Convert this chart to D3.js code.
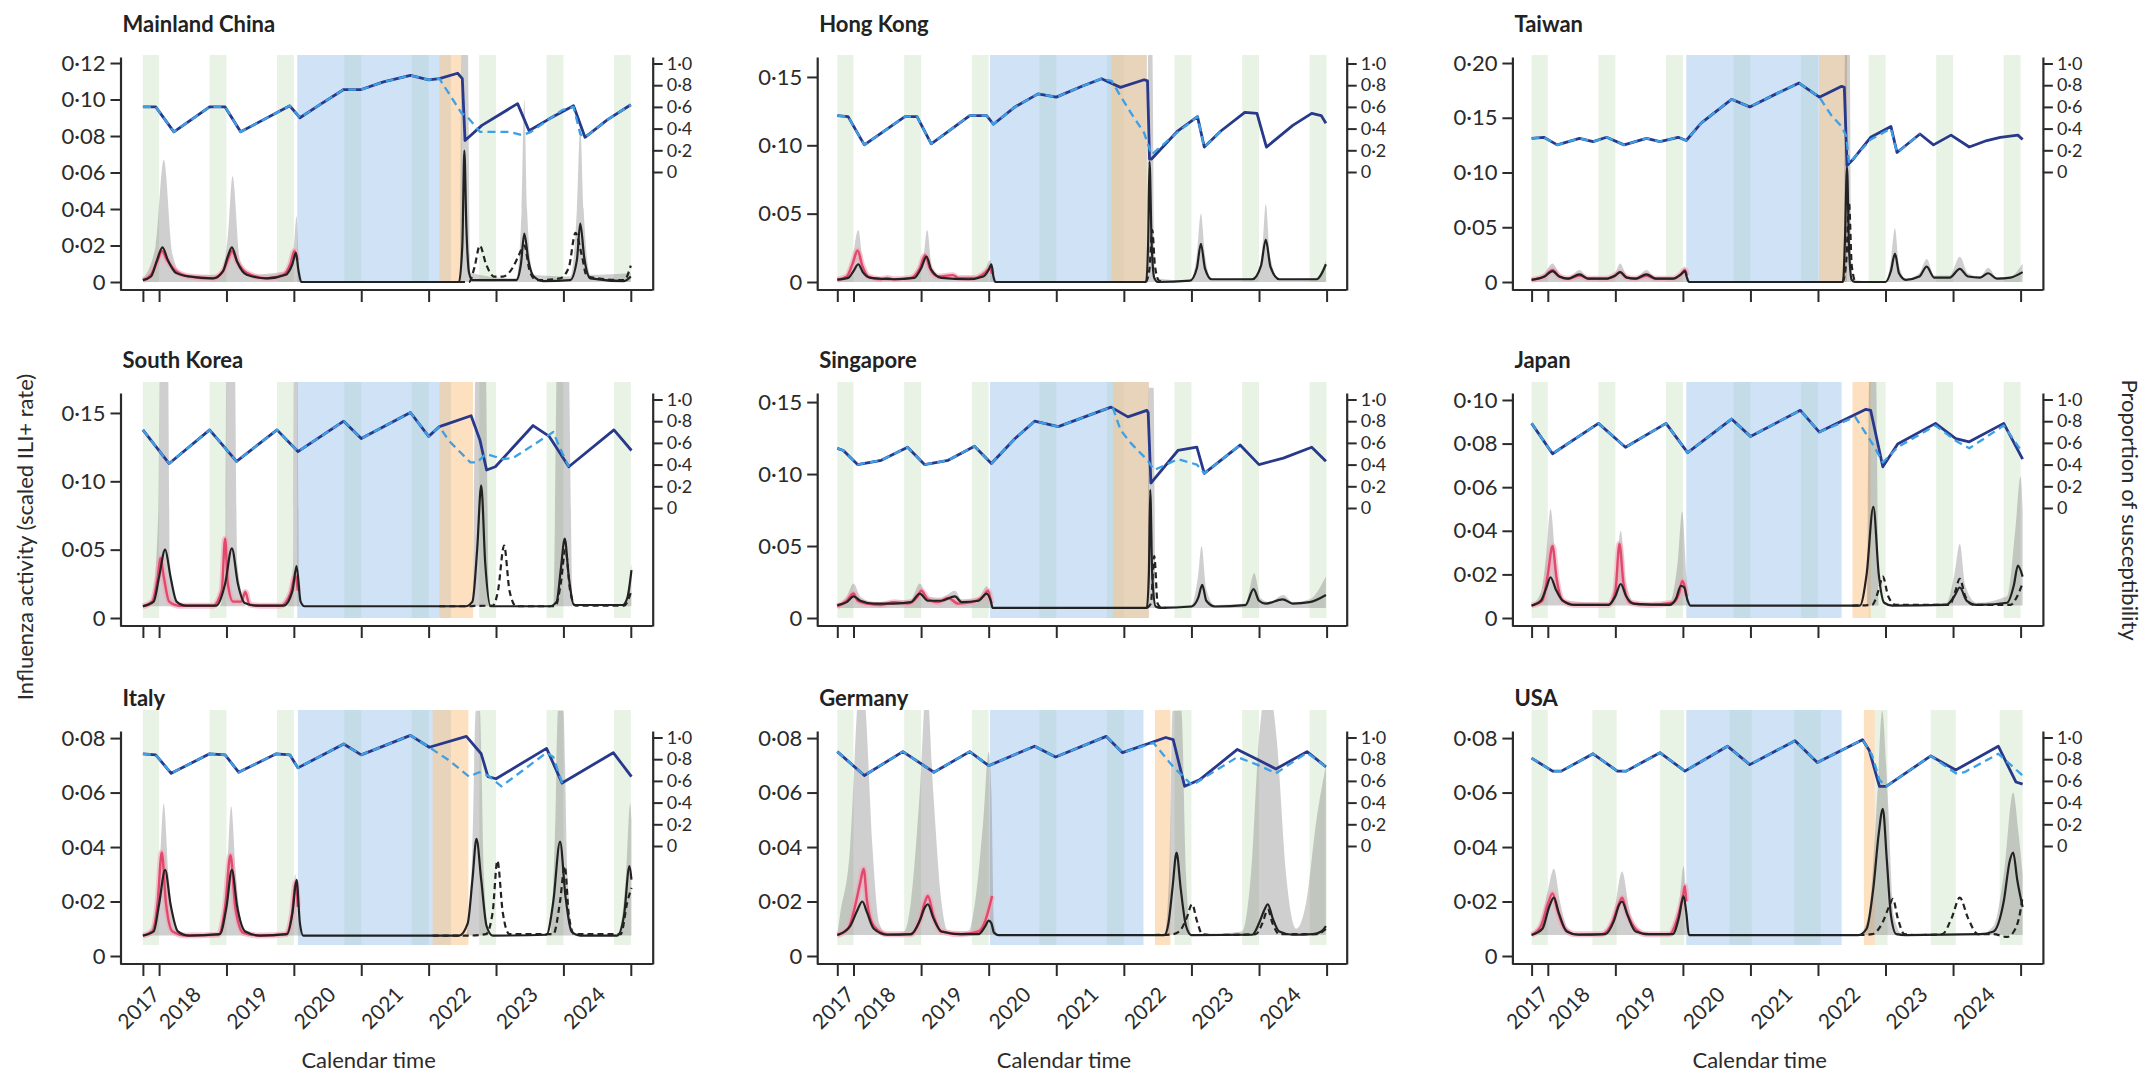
<!DOCTYPE html>
<html>
<head>
<meta charset="utf-8">
<script src="https://cdn.jsdelivr.net/npm/d3@7"></script>
<style>
  body { margin: 0; background: #fff; }
  svg { display: block; font-family: Lato, 'Noto Sans', sans-serif; }
</style>
</head>
<body>
<svg id="chart" width="2149" height="1077"></svg>
<script>
// ---- shared axis values ----
var xTicks = [2016.76, 2017, 2018, 2019, 2020, 2021, 2022, 2023, 2024];
var yearLabels = [2017, 2018, 2019, 2020, 2021, 2022, 2023, 2024];
var susTicks = [0, 0.2, 0.4, 0.6, 0.8, 1];

var names = ["Mainland China", "Hong Kong", "Taiwan", "South Korea", "Singapore", "Japan", "Italy", "Germany", "USA"];
var yTopValues = [0.1233, 0.1646, 0.2055, 0.1646, 0.1563, 0.1032, 0.0826, 0.0826, 0.0826];
var yTickSets = [
  [0, 0.02, 0.04, 0.06, 0.08, 0.10, 0.12],
  [0, 0.05, 0.10, 0.15],
  [0, 0.05, 0.10, 0.15, 0.20],
  [0, 0.05, 0.10, 0.15],
  [0, 0.05, 0.10, 0.15],
  [0, 0.02, 0.04, 0.06, 0.08, 0.10],
  [0, 0.02, 0.04, 0.06, 0.08],
  [0, 0.02, 0.04, 0.06, 0.08],
  [0, 0.02, 0.04, 0.06, 0.08]
];
var baselines = [0, 0, 0, 0.0086, 0.007, 0.0057, 0.0075, 0.0077, 0.0077];

// shaded periods (green = season, blue = NPI, orange = relaxation)
var seasons = [[2016.76, 2017], [2017.75, 2018], [2018.75, 2019], [2019.75, 2020], [2020.75, 2021], [2021.75, 2022], [2022.75, 2023], [2023.75, 2024]];
var usSeasons = [[2016.76, 2017], [2017.66, 2018.02], [2018.66, 2019.02], [2019.69, 2020.02], [2020.65, 2021.04], [2021.84, 2022.03], [2022.67, 2023.04], [2023.69, 2024.03]];
var npiPeriods = [[2019.05, 2021.33], [2019.02, 2021.34], [2019.05, 2021.43], [2019.05, 2021.33], [2019.02, 2021.37], [2019.05, 2021.35], [2019.06, 2021.33], [2019.02, 2021.29], [2019.05, 2021.35]];
var relaxPeriods = [[2021.16, 2021.49], [2020.82, 2021.34], [2021.02, 2021.43], [2021.16, 2021.66], [2020.84, 2021.37], [2021.51, 2021.78], [2021.06, 2021.59], [2021.46, 2021.69], [2021.68, 2021.84]];

// ---- Mainland China ----
var cnRed = [[2016.76,.001],[2016.88,.004],[2016.98,.012],[2017.04,.017],[2017.12,.012],[2017.25,.006],[2017.45,.003],[2017.8,.002],[2017.95,.006],[2018.04,.014],[2018.08,.017],[2018.16,.011],[2018.3,.005],[2018.6,.002],[2018.85,.004],[2018.95,.010],[2019.01,.017],[2019.05,.012]];
var cnFit = [[2016.76,.001],[2016.88,.003],[2016.97,.012],[2017.05,.019],[2017.13,.012],[2017.25,.005],[2017.45,.003],[2017.8,.002],[2017.95,.006],[2018.02,.014],[2018.08,.019],[2018.16,.011],[2018.3,.004],[2018.6,.002],[2018.88,.004],[2018.98,.010],[2019.03,.016],[2019.07,.006],[2019.11,0],[2021.45,0],[2021.5,.02],[2021.53,.072],[2021.56,.03],[2021.6,.005],[2021.65,.001],[2022.3,.001],[2022.37,.010],[2022.42,.0265],[2022.48,.012],[2022.56,.003],[2022.7,.0005],[2023.1,.001],[2023.2,.012],[2023.25,.032],[2023.31,.013],[2023.4,.002],[2023.9,.0005],[2024,.003]];
var cnCf = [[2021.45,0],[2021.6,0],[2021.68,.008],[2021.76,.020],[2021.85,.010],[2021.97,.003],[2022.1,.003],[2022.25,.008],[2022.33,.014],[2022.42,.02],[2022.5,.006],[2022.6,.001],[2022.95,.002],[2023.08,.008],[2023.18,.027],[2023.27,.015],[2023.35,.003],[2023.9,.001],[2024,.009]];
var cnPI = [[2016.76,.002],[2016.95,.02],[2017.07,.067],[2017.2,.015],[2017.35,.004],[2017.9,.004],[2018.02,.025],[2018.09,.058],[2018.2,.012],[2018.35,.004],[2018.9,.006],[2019.0,.02],[2019.04,.036],[2019.08,.005],[2019.12,0],[2021.46,0],[2021.49,.13],[2021.58,.13],[2021.62,.005],[2022.3,.002],[2022.38,.04],[2022.42,.10],[2022.46,.04],[2022.55,.004],[2023.1,.003],[2023.2,.04],[2023.25,.085],[2023.3,.04],[2023.4,.004],[2024,.005]];
var cnSus = [[2016.76,.60],[2016.95,.60],[2017.22,.37],[2017.75,.60],[2017.98,.60],[2018.21,.37],[2018.94,.61],[2019.09,.50],[2019.41,.63],[2019.74,.76],[2020.0,.76],[2020.33,.83],[2020.73,.89],[2021.0,.85],[2021.16,.86],[2021.43,.91],[2021.50,.86],[2021.54,.29],[2021.79,.43],[2022.32,.63],[2022.49,.38],[2022.79,.49],[2023.15,.61],[2023.32,.32],[2023.65,.48],[2024.0,.62]];
var cnSusCf = [[2021.16,.86],[2021.49,.54],[2021.56,.52],[2021.76,.37],[2022.2,.37],[2022.39,.34],[2022.52,.37],[2022.98,.57],[2023.15,.60],[2023.25,.35],[2023.32,.32],[2023.65,.48],[2024.0,.62]];

// ---- Hong Kong ----
var hkRed = [[2016.76,.0017],[2016.9,.004],[2016.99,.014],[2017.06,.023],[2017.13,.012],[2017.22,.004],[2017.4,.002],[2017.5,.003],[2017.6,.002],[2017.85,.003],[2017.98,.010],[2018.06,.0196],[2018.13,.010],[2018.25,.004],[2018.47,.005],[2018.55,.003],[2018.8,.003],[2018.95,.007],[2019.02,.010],[2019.05,.006]];
var hkFit = [[2016.76,.0017],[2016.92,.003],[2017.0,.008],[2017.07,.013],[2017.14,.007],[2017.25,.003],[2017.6,.002],[2017.9,.003],[2018.0,.010],[2018.08,.0185],[2018.15,.009],[2018.3,.003],[2018.7,.002],[2018.92,.004],[2019.0,.009],[2019.04,.013],[2019.07,.004],[2019.1,0],[2021.33,0],[2021.36,.03],[2021.38,.088],[2021.41,.03],[2021.45,.003],[2021.5,0],[2021.98,.001],[2022.08,.010],[2022.14,.028],[2022.2,.010],[2022.3,.002],[2022.9,.002],[2023.03,.012],[2023.1,.031],[2023.17,.011],[2023.3,.002],[2023.85,.002],[2023.99,.013]];
var hkCf = [[2021.33,0],[2021.38,.01],[2021.42,.038],[2021.46,.012],[2021.52,.001],[2021.6,0]];
var hkPI = [[2016.76,.0017],[2016.95,.008],[2017.07,.038],[2017.16,.008],[2017.3,.002],[2017.9,.003],[2018.02,.012],[2018.09,.038],[2018.16,.010],[2018.3,.003],[2018.9,.004],[2019.02,.016],[2019.07,.004],[2019.1,0],[2021.34,0],[2021.36,.17],[2021.42,.17],[2021.46,.003],[2021.98,.001],[2022.08,.02],[2022.14,.05],[2022.2,.02],[2022.3,.002],[2022.95,.003],[2023.05,.025],[2023.1,.057],[2023.16,.02],[2023.3,.002],[2023.85,.003],[2023.99,.016]];
var hkSus = [[2016.76,.52],[2016.92,.51],[2017.16,.25],[2017.76,.51],[2017.94,.51],[2018.15,.26],[2018.72,.52],[2018.97,.52],[2019.07,.44],[2019.39,.60],[2019.73,.72],[2020.0,.69],[2020.38,.79],[2020.67,.86],[2020.95,.78],[2021.30,.85],[2021.35,.84],[2021.38,.12],[2021.41,.12],[2021.8,.38],[2022.09,.51],[2022.19,.23],[2022.44,.38],[2022.79,.55],[2022.97,.54],[2023.11,.23],[2023.5,.43],[2023.78,.54],[2023.92,.52],[2023.99,.45]];
var hkSusCf = [[2020.82,.84],[2020.95,.70],[2021.1,.55],[2021.3,.36],[2021.41,.16],[2021.8,.37],[2022.09,.51],[2022.19,.23],[2022.44,.38]];

// ---- Taiwan ----
var twRed = [[2016.76,.002],[2016.95,.005],[2017.07,.011],[2017.17,.005],[2017.3,.003],[2017.47,.006],[2017.6,.003],[2017.85,.003],[2018.0,.006],[2018.07,.009],[2018.17,.004],[2018.3,.003],[2018.46,.006],[2018.6,.003],[2018.85,.003],[2018.97,.007],[2019.03,.011],[2019.06,.006]];
var twFit = [[2016.76,.002],[2016.95,.005],[2017.07,.010],[2017.17,.005],[2017.3,.003],[2017.47,.007],[2017.6,.003],[2017.85,.003],[2018.0,.006],[2018.07,.009],[2018.17,.004],[2018.3,.003],[2018.46,.007],[2018.6,.003],[2018.85,.003],[2018.97,.007],[2019.03,.010],[2019.06,.004],[2019.09,0],[2021.37,0],[2021.40,.04],[2021.43,.105],[2021.46,.03],[2021.5,.002],[2021.55,0],[2022.0,0],[2022.08,.010],[2022.14,.026],[2022.2,.008],[2022.3,.002],[2022.5,.005],[2022.61,.014],[2022.72,.004],[2022.95,.004],[2023.1,.012],[2023.22,.005],[2023.4,.004],[2023.52,.008],[2023.65,.003],[2023.85,.004],[2024.03,.009]];
var twCf = [[2021.37,0],[2021.42,.02],[2021.46,.072],[2021.5,.015],[2021.56,0],[2021.62,0]];
var twPI = [[2016.76,.002],[2016.95,.008],[2017.07,.017],[2017.17,.008],[2017.3,.004],[2017.47,.011],[2017.6,.004],[2017.85,.004],[2018.0,.009],[2018.07,.017],[2018.17,.006],[2018.3,.004],[2018.46,.011],[2018.6,.004],[2018.85,.004],[2018.97,.009],[2019.03,.014],[2019.07,.003],[2019.09,0],[2021.38,0],[2021.40,.21],[2021.47,.21],[2021.5,.002],[2022.0,0],[2022.08,.02],[2022.14,.049],[2022.2,.015],[2022.3,.003],[2022.5,.008],[2022.61,.021],[2022.72,.006],[2022.95,.006],[2023.1,.023],[2023.22,.008],[2023.4,.005],[2023.52,.013],[2023.65,.004],[2023.85,.005],[2024.03,.017]];
var twSus = [[2016.76,.31],[2016.94,.32],[2017.14,.25],[2017.47,.31],[2017.67,.28],[2017.87,.32],[2018.13,.25],[2018.46,.31],[2018.66,.28],[2018.93,.32],[2019.05,.29],[2019.27,.45],[2019.72,.67],[2019.99,.60],[2020.38,.72],[2020.72,.82],[2021.02,.69],[2021.35,.79],[2021.39,.78],[2021.43,.06],[2021.51,.11],[2021.78,.32],[2022.08,.42],[2022.17,.18],[2022.51,.35],[2022.71,.25],[2022.97,.34],[2023.24,.23],[2023.5,.29],[2023.7,.32],[2023.96,.34],[2024.03,.30]];
var twSusCf = [[2021.02,.69],[2021.2,.52],[2021.35,.42],[2021.42,.33],[2021.46,.08],[2021.78,.30],[2022.08,.40],[2022.17,.18],[2022.51,.35]];

// ---- South Korea ----
var krRed = [[2016.76,.0086],[2016.9,.012],[2016.98,.030],[2017.02,.044],[2017.07,.030],[2017.15,.012],[2017.3,.009],[2017.8,.009],[2017.93,.02],[2017.98,.058],[2018.02,.025],[2018.1,.012],[2018.22,.012],[2018.28,.019],[2018.34,.010],[2018.5,.009],[2018.8,.009],[2018.95,.018],[2019.02,.031],[2019.06,.020]];
var krFit = [[2016.76,.0086],[2016.92,.012],[2017.0,.03],[2017.09,.050],[2017.17,.030],[2017.26,.012],[2017.4,.009],[2017.85,.009],[2017.98,.025],[2018.08,.051],[2018.17,.025],[2018.27,.011],[2018.45,.009],[2018.85,.009],[2018.98,.02],[2019.04,.038],[2019.1,.012],[2019.16,.0086],[2021.55,.0086],[2021.65,.012],[2021.72,.05],[2021.78,.097],[2021.84,.04],[2021.92,.0086],[2022.8,.0086],[2022.9,.012],[2022.96,.035],[2023.02,.058],[2023.08,.03],[2023.16,.0095],[2023.88,.0095],[2023.95,.015],[2024.01,.035]];
var krCf = [[2021.16,.0086],[2021.6,.0086],[2021.68,.0089],[2021.95,.009],[2022.03,.02],[2022.12,.053],[2022.2,.02],[2022.3,.0086],[2022.88,.0086],[2022.96,.025],[2023.03,.05],[2023.1,.02],[2023.18,.009],[2023.9,.009],[2024.01,.02]];
var krPI = [[2016.76,.0086],[2016.9,.015],[2016.99,.08],[2017.01,.2],[2017.13,.2],[2017.16,.04],[2017.3,.0086],[2017.9,.0086],[2017.98,.04],[2018.0,.2],[2018.12,.2],[2018.16,.04],[2018.3,.0086],[2018.9,.0086],[2018.99,.04],[2019.0,.2],[2019.05,.2],[2019.08,.01],[2019.12,.0086],[2021.65,.0086],[2021.7,.2],[2021.84,.2],[2021.9,.0086],[2022.85,.0086],[2022.91,.2],[2023.07,.2],[2023.14,.0086],[2023.9,.0086],[2024.01,.04]];
var krSus = [[2016.76,.72],[2017.15,.41],[2017.75,.72],[2018.15,.43],[2018.75,.72],[2019.06,.52],[2019.74,.80],[2020.0,.64],[2020.73,.88],[2021.0,.66],[2021.16,.75],[2021.63,.85],[2021.76,.63],[2021.86,.35],[2021.99,.38],[2022.55,.76],[2022.79,.66],[2023.08,.38],[2023.75,.72],[2024.01,.53]];
var krSusCf = [[2021.16,.75],[2021.3,.62],[2021.62,.42],[2021.72,.42],[2021.85,.50],[2022.1,.45],[2022.25,.46],[2022.85,.70],[2022.95,.55],[2023.08,.38]];

// ---- Singapore ----
var sgRed = [[2016.76,.008],[2016.9,.012],[2017.0,.017],[2017.06,.012],[2017.2,.010],[2017.4,.009],[2017.6,.011],[2017.8,.010],[2017.95,.015],[2018.0,.019],[2018.1,.013],[2018.25,.011],[2018.4,.014],[2018.55,.010],[2018.75,.011],[2018.92,.015],[2018.99,.019],[2019.04,.010]];
var sgFit = [[2016.76,.009],[2016.9,.011],[2017.0,.015],[2017.1,.012],[2017.3,.010],[2017.6,.010],[2017.85,.011],[2017.98,.017],[2018.1,.012],[2018.3,.012],[2018.5,.015],[2018.6,.011],[2018.85,.012],[2018.97,.017],[2019.03,.012],[2019.06,.007],[2021.34,.007],[2021.37,.03],[2021.39,.089],[2021.42,.03],[2021.47,.008],[2021.55,.007],[2022.0,.008],[2022.1,.014],[2022.16,.023],[2022.22,.012],[2022.35,.008],[2022.8,.009],[2022.92,.020],[2023.0,.012],[2023.1,.010],[2023.35,.013],[2023.5,.010],[2023.75,.011],[2023.99,.016]];
var sgCf = [[2021.34,.007],[2021.4,.01],[2021.45,.043],[2021.5,.01],[2021.56,.007],[2021.62,.007]];
var sgPI = [[2016.76,.009],[2016.9,.015],[2017.0,.024],[2017.1,.015],[2017.3,.011],[2017.6,.012],[2017.85,.013],[2017.98,.024],[2018.1,.015],[2018.3,.014],[2018.5,.019],[2018.6,.013],[2018.85,.014],[2018.97,.022],[2019.04,.012],[2019.07,.007],[2021.35,.007],[2021.37,.16],[2021.44,.16],[2021.47,.008],[2022.0,.009],[2022.1,.03],[2022.15,.05],[2022.22,.02],[2022.35,.009],[2022.8,.01],[2022.93,.031],[2023.02,.014],[2023.15,.011],[2023.36,.016],[2023.5,.011],[2023.75,.013],[2023.99,.029]];
var sgSus = [[2016.76,.55],[2016.85,.53],[2017.06,.40],[2017.41,.44],[2017.8,.56],[2018.05,.40],[2018.4,.44],[2018.79,.57],[2019.04,.41],[2019.39,.64],[2019.68,.80],[2020.03,.75],[2020.81,.93],[2021.06,.84],[2021.34,.90],[2021.36,.88],[2021.4,.23],[2021.8,.53],[2022.08,.56],[2022.19,.32],[2022.72,.58],[2023.0,.40],[2023.36,.46],[2023.78,.56],[2023.99,.43]];
var sgSusCf = [[2020.84,.92],[2020.95,.72],[2021.1,.60],[2021.35,.44],[2021.45,.35],[2021.8,.45],[2022.08,.40],[2022.19,.32],[2022.72,.58]];

// ---- Japan ----
var jpRed = [[2016.76,.0057],[2016.92,.008],[2017.0,.02],[2017.07,.033],[2017.13,.018],[2017.22,.008],[2017.4,.006],[2017.9,.006],[2018.0,.012],[2018.06,.034],[2018.12,.016],[2018.22,.007],[2018.5,.006],[2018.85,.007],[2018.95,.012],[2018.99,.017],[2019.03,.014],[2019.05,.010]];
var jpFit = [[2016.76,.0057],[2016.9,.008],[2016.98,.014],[2017.04,.0187],[2017.12,.013],[2017.22,.008],[2017.4,.006],[2017.9,.006],[2018.0,.01],[2018.08,.0156],[2018.16,.010],[2018.28,.0065],[2018.8,.006],[2018.9,.009],[2018.97,.0148],[2019.02,.014],[2019.07,.008],[2019.11,.0057],[2021.62,.0057],[2021.72,.02],[2021.82,.051],[2021.9,.02],[2021.98,.007],[2022.1,.0057],[2022.9,.006],[2023.02,.01],[2023.1,.014],[2023.2,.008],[2023.35,.006],[2023.8,.007],[2023.9,.015],[2023.96,.024],[2024.03,.019]];
var jpCf = [[2021.51,.0057],[2021.8,.006],[2021.9,.013],[2021.96,.019],[2022.04,.01],[2022.15,.006],[2022.95,.006],[2023.03,.012],[2023.1,.018],[2023.18,.01],[2023.3,.006],[2023.85,.006],[2023.95,.01],[2024.03,.016]];
var jpPI = [[2016.76,.006],[2016.9,.012],[2016.98,.03],[2017.04,.05],[2017.12,.025],[2017.25,.008],[2017.9,.007],[2018.0,.018],[2018.08,.040],[2018.16,.015],[2018.3,.007],[2018.8,.007],[2018.92,.025],[2018.99,.049],[2019.05,.02],[2019.1,.0057],[2021.72,.0057],[2021.76,.11],[2021.86,.11],[2021.9,.0057],[2022.9,.007],[2023.02,.02],[2023.1,.034],[2023.18,.015],[2023.35,.007],[2023.8,.01],[2023.92,.04],[2024.0,.065],[2024.03,.05]];
var jpSus = [[2016.76,.78],[2017.07,.50],[2017.75,.78],[2018.15,.56],[2018.75,.78],[2019.07,.51],[2019.72,.82],[2020.0,.66],[2020.74,.90],[2021.02,.70],[2021.71,.91],[2021.78,.90],[2021.96,.38],[2022.18,.59],[2022.74,.78],[2023.04,.64],[2023.24,.61],[2023.75,.78],[2024.03,.45]];
var jpSusCf = [[2021.55,.84],[2021.83,.57],[2021.96,.42],[2022.18,.56],[2022.74,.76],[2023.04,.62],[2023.24,.55],[2023.75,.76],[2024.03,.51]];

// ---- Italy ----
var itRed = [[2016.76,.0075],[2016.9,.009],[2016.98,.02],[2017.04,.038],[2017.1,.02],[2017.2,.009],[2017.4,.0075],[2017.88,.0078],[2017.98,.018],[2018.06,.037],[2018.13,.018],[2018.25,.0085],[2018.5,.0075],[2018.88,.008],[2018.97,.015],[2019.03,.027],[2019.06,.018]];
var itFit = [[2016.76,.0075],[2016.92,.009],[2017.0,.019],[2017.09,.0316],[2017.17,.019],[2017.28,.009],[2017.45,.0075],[2017.9,.008],[2018.0,.018],[2018.08,.0316],[2018.16,.018],[2018.28,.009],[2018.5,.0075],[2018.9,.008],[2018.98,.016],[2019.04,.028],[2019.09,.012],[2019.14,.0075],[2021.45,.0075],[2021.58,.012],[2021.65,.028],[2021.71,.043],[2021.78,.028],[2021.86,.011],[2021.95,.0075],[2022.75,.0078],[2022.85,.02],[2022.95,.042],[2023.03,.022],[2023.12,.009],[2023.25,.0075],[2023.8,.0075],[2023.9,.015],[2023.98,.033],[2024.01,.028]];
var itCf = [[2021.06,.0075],[2021.6,.0075],[2021.85,.008],[2021.95,.016],[2022.02,.035],[2022.1,.016],[2022.2,.008],[2022.85,.008],[2022.95,.02],[2023.02,.033],[2023.08,.015],[2023.16,.008],[2023.85,.008],[2023.95,.02],[2024.01,.025]];
var itPI = [[2016.76,.0075],[2016.92,.012],[2017.0,.03],[2017.07,.056],[2017.14,.03],[2017.25,.01],[2017.45,.0075],[2017.9,.008],[2018.0,.028],[2018.07,.055],[2018.14,.03],[2018.25,.01],[2018.5,.0075],[2018.9,.009],[2018.98,.02],[2019.02,.03],[2019.07,.012],[2019.14,.0075],[2021.55,.0075],[2021.65,.04],[2021.7,.09],[2021.76,.09],[2021.82,.03],[2021.9,.0075],[2022.8,.008],[2022.88,.05],[2022.92,.09],[2023.0,.09],[2023.06,.03],[2023.15,.008],[2023.8,.008],[2023.93,.03],[2023.99,.056],[2024.01,.05]];
var itSus = [[2016.76,.85],[2016.95,.84],[2017.18,.67],[2017.75,.85],[2017.98,.84],[2018.18,.68],[2018.74,.85],[2018.94,.84],[2019.06,.72],[2019.74,.94],[2020.0,.84],[2020.73,1.02],[2021.01,.91],[2021.56,1.01],[2021.78,.85],[2021.88,.64],[2022.0,.62],[2022.75,.90],[2022.98,.58],[2023.74,.86],[2024.01,.64]];
var itSusCf = [[2021.01,.91],[2021.3,.79],[2021.6,.64],[2021.75,.68],[2021.88,.65],[2022.08,.55],[2022.75,.86],[2022.85,.82],[2022.98,.58]];

// ---- Germany ----
var deRed = [[2016.76,.0077],[2016.92,.01],[2017.02,.018],[2017.1,.027],[2017.15,.032],[2017.2,.02],[2017.3,.011],[2017.5,.008],[2017.85,.008],[2017.98,.013],[2018.06,.02],[2018.1,.022],[2018.18,.015],[2018.3,.009],[2018.6,.008],[2018.85,.009],[2018.95,.013],[2019.02,.019],[2019.05,.022]];
var deFit = [[2016.76,.0077],[2016.95,.011],[2017.06,.017],[2017.13,.02],[2017.2,.016],[2017.3,.01],[2017.5,.0078],[2017.85,.008],[2017.98,.013],[2018.06,.018],[2018.1,.019],[2018.18,.014],[2018.3,.009],[2018.6,.008],[2018.85,.008],[2018.95,.011],[2019.0,.013],[2019.04,.012],[2019.08,.0085],[2019.14,.0077],[2021.6,.0077],[2021.66,.012],[2021.72,.025],[2021.78,.038],[2021.84,.025],[2021.92,.011],[2022.0,.0077],[2022.9,.0078],[2023.0,.012],[2023.08,.017],[2023.13,.019],[2023.2,.014],[2023.3,.009],[2023.5,.0078],[2023.8,.008],[2023.92,.009],[2023.99,.011]];
var deCf = [[2021.44,.0077],[2021.7,.0079],[2021.82,.009],[2021.93,.014],[2022.01,.019],[2022.08,.013],[2022.16,.008],[2022.3,.0077],[2022.95,.008],[2023.05,.012],[2023.13,.017],[2023.2,.012],[2023.3,.008],[2023.85,.008],[2023.99,.010]];
var dePI = [[2016.76,.008],[2016.8,.015],[2016.95,.04],[2017.05,.09],[2017.1,.11],[2017.18,.09],[2017.28,.04],[2017.38,.012],[2017.5,.008],[2017.75,.009],[2017.85,.02],[2017.98,.06],[2018.08,.10],[2018.18,.06],[2018.3,.02],[2018.4,.009],[2018.7,.009],[2018.8,.02],[2018.92,.05],[2019.0,.075],[2019.04,.06],[2019.08,.012],[2019.14,.0077],[2021.6,.0077],[2021.67,.03],[2021.72,.09],[2021.85,.09],[2021.92,.03],[2022.0,.0077],[2022.75,.009],[2022.88,.03],[2023.0,.08],[2023.13,.10],[2023.26,.08],[2023.4,.03],[2023.55,.01],[2023.7,.02],[2023.85,.05],[2023.99,.07]];
var deSus = [[2016.76,.87],[2017.16,.65],[2017.73,.87],[2018.19,.68],[2018.72,.87],[2019.0,.74],[2019.68,.92],[2019.99,.82],[2020.74,1.01],[2020.98,.86],[2021.62,1.0],[2021.73,.98],[2021.9,.55],[2022.12,.61],[2022.68,.89],[2022.97,.80],[2023.25,.71],[2023.71,.87],[2023.99,.73]];
var deSusCf = [[2021.44,.95],[2021.73,.73],[2022.01,.56],[2022.68,.82],[2022.97,.75],[2023.25,.67],[2023.71,.86],[2023.99,.73]];

// ---- USA ----
var usRed = [[2016.76,.0077],[2016.9,.011],[2017.0,.019],[2017.07,.023],[2017.14,.017],[2017.25,.01],[2017.4,.008],[2017.8,.008],[2017.95,.012],[2018.05,.019],[2018.1,.0214],[2018.17,.016],[2018.3,.01],[2018.45,.008],[2018.8,.008],[2018.92,.014],[2019.0,.022],[2019.03,.0257],[2019.05,.02]];
var usFit = [[2016.76,.0077],[2016.92,.01],[2017.02,.018],[2017.09,.0214],[2017.16,.016],[2017.28,.009],[2017.45,.0078],[2017.85,.008],[2017.98,.013],[2018.06,.019],[2018.1,.020],[2018.18,.015],[2018.3,.009],[2018.5,.008],[2018.85,.008],[2018.94,.014],[2019.01,.022],[2019.05,.016],[2019.09,.0077],[2021.6,.0077],[2021.72,.01],[2021.82,.025],[2021.9,.045],[2021.96,.054],[2022.02,.035],[2022.08,.015],[2022.16,.008],[2022.3,.0077],[2023.4,.008],[2023.6,.009],[2023.75,.02],[2023.84,.035],[2023.89,.038],[2023.95,.028],[2024.03,.018]];
var usCf = [[2021.6,.0077],[2021.8,.008],[2021.95,.012],[2022.05,.018],[2022.11,.021],[2022.18,.014],[2022.28,.008],[2022.5,.0077],[2022.84,.008],[2022.98,.014],[2023.1,.0214],[2023.22,.014],[2023.37,.008],[2023.6,.008],[2023.8,.007],[2023.9,.009],[2024.0,.017],[2024.03,.022]];
var usPI = [[2016.76,.008],[2016.9,.013],[2017.0,.024],[2017.09,.032],[2017.18,.02],[2017.3,.01],[2017.45,.008],[2017.85,.008],[2017.98,.016],[2018.1,.031],[2018.2,.018],[2018.32,.009],[2018.5,.008],[2018.85,.009],[2018.95,.02],[2019.01,.033],[2019.06,.015],[2019.09,.0077],[2021.6,.0077],[2021.75,.015],[2021.88,.06],[2021.95,.09],[2022.03,.06],[2022.12,.015],[2022.25,.008],[2023.4,.008],[2023.6,.011],[2023.75,.03],[2023.89,.06],[2023.97,.045],[2024.03,.03]];
var usSus = [[2016.76,.81],[2017.07,.69],[2017.2,.69],[2017.67,.85],[2018.03,.69],[2018.16,.69],[2018.66,.86],[2019.03,.69],[2019.66,.92],[2019.99,.75],[2020.66,.97],[2020.99,.77],[2021.66,.98],[2021.76,.88],[2021.91,.55],[2022.01,.55],[2022.67,.83],[2023.04,.70],[2023.67,.92],[2023.93,.59],[2024.03,.57]];
var usSusCf = [[2021.66,.98],[2021.8,.84],[2021.91,.61],[2022.01,.55],[2022.67,.83],[2023.04,.67],[2023.17,.68],[2023.67,.85],[2024.03,.65]];

// table of series, panel order
var reds = [cnRed, hkRed, twRed, krRed, sgRed, jpRed, itRed, deRed, usRed];
var fits = [cnFit, hkFit, twFit, krFit, sgFit, jpFit, itFit, deFit, usFit];
var cfs = [cnCf, hkCf, twCf, krCf, sgCf, jpCf, itCf, deCf, usCf];
var pis = [cnPI, hkPI, twPI, krPI, sgPI, jpPI, itPI, dePI, usPI];
var suss = [cnSus, hkSus, twSus, krSus, sgSus, jpSus, itSus, deSus, usSus];
var susCfs = [cnSusCf, hkSusCf, twSusCf, krSusCf, sgSusCf, jpSusCf, itSusCf, deSusCf, usSusCf];

// ---- layout ----
var cols = [
  {left: 120.5, right: 652.7, x0: 142.9, x1: 630.8},
  {left: 817.2, right: 1346.7, x0: 837.3, x1: 1326.6},
  {left: 1512.4, right: 2042.9, x0: 1531.6, x1: 2020.6}
];
var rowTops = [57, 393, 731];
var bandTopOff = [-2, -11, -21],
    bandBotOff = [0, 0, -11];

var ink = "#2b2b2b";
var svg = d3.select("#chart");

var fmtLeft = function(v) { return v === 0 ? "0" : d3.format(".2f")(v).replace(".", "\u00b7"); };
var fmtRight = function(v) { return v === 0 ? "0" : d3.format(".1f")(v).replace(".", "\u00b7"); };

function styleAxis(a, size) {
  a.attr("font-family", null).attr("font-size", null);
  a.select(".domain").attr("stroke", ink).attr("stroke-width", 2.2);
  a.selectAll(".tick line").attr("stroke", ink).attr("stroke-width", 2);
  a.selectAll(".tick text").attr("fill", ink).style("font-size", size + "px");
}

names.forEach(function(name, i) {
  var c = cols[i % 3], r = Math.floor(i / 3);
  var yT = rowTops[r], y0 = yT + 225, yB = yT + 233;
  var top = yTopValues[i], base = baselines[i];

  var x = d3.scaleLinear().domain([2016.76, 2024]).range([c.x0, c.x1]);
  var y = d3.scaleLinear().domain([-top * 8 / 225, top]).range([yB, yT]);
  var s = d3.scaleLinear().domain([-118 / 108.5, 115 / 108.5]).range([yB, yT]);

  var g = svg.append("g");
  var bTop = yT + bandTopOff[r], bBot = y0 + bandBotOff[r];
  var clampT = function(t) { return Math.max(2016.76, t); };

  function bands(data, color, op) {
    g.append("g").selectAll("rect").data(data).join("rect")
      .attr("x", function(d) { return x(clampT(d[0])); })
      .attr("width", function(d) { return x(d[1]) - x(clampT(d[0])); })
      .attr("y", bTop)
      .attr("height", bBot - bTop)
      .attr("fill", color)
      .attr("fill-opacity", op);
  }
  bands(name === "USA" ? usSeasons : seasons, "rgb(196,224,186)", 0.38);
  bands([npiPeriods[i]], "rgb(150,190,236)", 0.45);
  bands([relaxPeriods[i]], "rgb(252,198,138)", 0.55);

  // prediction interval
  var clipId = "clip" + i;
  g.append("clipPath").attr("id", clipId).append("rect")
    .attr("x", c.left).attr("y", bTop).attr("width", c.right - c.left).attr("height", y0 - bTop + 4);

  var area = d3.area()
    .x(function(d) { return x(d[0]); })
    .y0(y(base))
    .y1(function(d) { return y(Math.max(base, d[1])); })
    .curve(d3.curveMonotoneX);

  g.append("path").datum(pis[i])
    .attr("clip-path", "url(#" + clipId + ")")
    .attr("d", area)
    .attr("fill", "rgb(130,130,130)")
    .attr("fill-opacity", 0.38);

  var flu = d3.line()
    .x(function(d) { return x(d[0]); })
    .y(function(d) { return y(d[1]); })
    .curve(d3.curveMonotoneX);

  var sus = d3.line()
    .x(function(d) { return x(d[0]); })
    .y(function(d) { return s(d[1]); });

  // observed
  g.append("path").datum(reds[i]).attr("d", flu)
    .attr("fill", "none").attr("stroke", "#f2a3b6").attr("stroke-opacity", 0.6).attr("stroke-width", 6);
  g.append("path").datum(reds[i]).attr("d", flu)
    .attr("fill", "none").attr("stroke", "#e2486c").attr("stroke-width", 2.4);

  // model fit and counterfactual
  g.append("path").datum(fits[i]).attr("d", flu)
    .attr("fill", "none").attr("stroke", "#222").attr("stroke-width", 2.2);
  g.append("path").datum(cfs[i]).attr("d", flu)
    .attr("fill", "none").attr("stroke", "#222").attr("stroke-width", 2.2)
    .attr("stroke-dasharray", "6,4");

  // susceptibility
  var cfStart = susCfs[i][0][0];
  var susCfFull = suss[i].filter(function(d) { return d[0] < cfStart; }).concat(susCfs[i]);
  g.append("path").datum(suss[i]).attr("d", sus)
    .attr("fill", "none").attr("stroke", "#28388a").attr("stroke-width", 2.8)
    .attr("stroke-linejoin", "round");
  g.append("path").datum(susCfFull).attr("d", sus)
    .attr("fill", "none").attr("stroke", "#3d9fe6").attr("stroke-width", 2.3)
    .attr("stroke-dasharray", "8,5").attr("stroke-linejoin", "round");

  // axes
  var ay = g.append("g").attr("transform", "translate(" + c.left + ",0)")
    .call(d3.axisLeft(y).tickValues(yTickSets[i]).tickSize(10).tickSizeOuter(0).tickPadding(5).tickFormat(fmtLeft));
  styleAxis(ay, 22);

  var as = g.append("g").attr("transform", "translate(" + c.right + ",0)")
    .call(d3.axisRight(s).tickValues(susTicks).tickSize(10).tickSizeOuter(0).tickPadding(4).tickFormat(fmtRight));
  styleAxis(as, 18);

  var ax = g.append("g").attr("transform", "translate(0," + yB + ")")
    .call(d3.axisBottom(x).tickValues(xTicks).tickSize(12).tickFormat(""));
  styleAxis(ax, 22);
  ax.select(".domain").remove();
  g.append("line")
    .attr("x1", c.left).attr("x2", c.right).attr("y1", yB).attr("y2", yB)
    .attr("stroke", ink).attr("stroke-width", 2.2);

  // title
  g.append("text")
    .attr("x", c.left + 2).attr("y", yT - 25)
    .attr("fill", "#222")
    .style("font-size", "22px").style("font-weight", "bold")
    .text(name);

  // year labels and x title on bottom row only
  if (r === 2) {
    g.append("g").selectAll("text").data(yearLabels).join("text")
      .attr("transform", function(d) {
        return "translate(" + (x(d) + (d === 2017 ? 2 : -24)) + "," + (yB + 32) + ") rotate(-45)";
      })
      .attr("text-anchor", "end")
      .attr("fill", ink)
      .style("font-size", "21px")
      .text(function(d) { return d; });

    g.append("text")
      .attr("x", (c.left + c.right) / 2 - 18).attr("y", 1068)
      .attr("text-anchor", "middle")
      .attr("fill", ink)
      .style("font-size", "22px")
      .text("Calendar time");
  }
});

// side titles
svg.append("text")
  .attr("transform", "translate(33,537) rotate(-90)")
  .attr("text-anchor", "middle")
  .attr("fill", ink)
  .style("font-size", "22px")
  .text("Influenza activity (scaled ILI+ rate)");

svg.append("text")
  .attr("transform", "translate(2122,510) rotate(90)")
  .attr("text-anchor", "middle")
  .attr("fill", ink)
  .style("font-size", "22px")
  .text("Proportion of susceptibility");
</script>
</body>
</html>
